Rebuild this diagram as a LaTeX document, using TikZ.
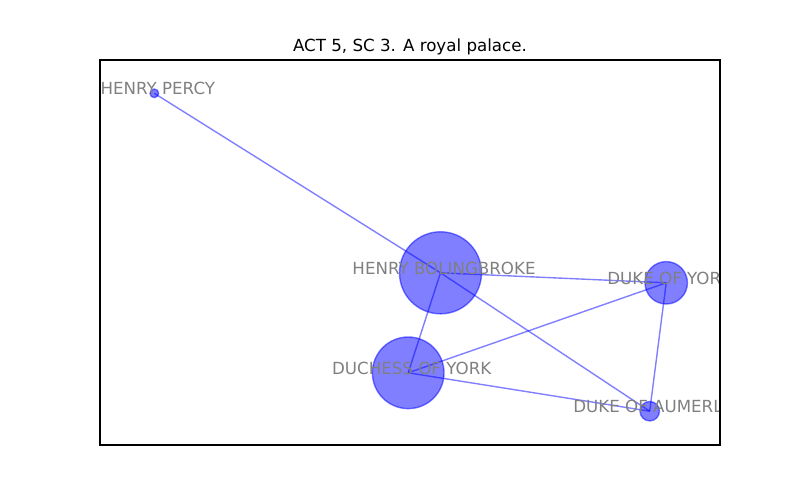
\documentclass[tikz,border=0pt]{standalone}
\usepackage{fontspec}
\setmainfont{DejaVu Sans}
\definecolor{nodeBlue}{HTML}{0000FF}
\definecolor{tagGray}{HTML}{808080}

\begin{document}
\begin{tikzpicture}[x=0.01in, y=-0.01in,
    person/.style={shape=circle, fill=nodeBlue, fill opacity=0.5, draw=nodeBlue, draw opacity=0.5, line width=1bp, inner sep=0pt, outer sep=0pt},
    link/.style={draw=nodeBlue, draw opacity=0.5, line width=1bp},
    nametag/.style={text=tagGray, font=\fontsize{12bp}{14bp}\selectfont, inner sep=0pt, xshift=0.035in, yshift=0.045in}]
  \useasboundingbox (0,0) rectangle (800,500);

  \node[anchor=base, inner sep=0pt, font=\fontsize{12bp}{14bp}\selectfont] (TITLE) at (410,51.7) {ACT 5, SC 3. A royal palace.};

  \begin{scope}
    \clip (100,60) rectangle (720,445);

    \node[person, minimum size=0.086in] (HP) at (154.3,93.3) {};
    \node[person, minimum size=0.82in] (HB) at (440.5,272.8) {};
    \node[person, minimum size=0.424in] (DY) at (666.2,282.8) {};
    \node[person, minimum size=0.716in] (DoY) at (408.2,372.8) {};
    \node[person, minimum size=0.194in] (DA) at (649.7,411.2) {};

    \draw[link] (HP.center) -- (HB.center);
    \draw[link] (HB.center) -- (DY.center);
    \draw[link] (HB.center) -- (DoY.center);
    \draw[link] (HB.center) -- (DA.center);
    \draw[link] (DoY.center) -- (DY.center);
    \draw[link] (DoY.center) -- (DA.center);
    \draw[link] (DY.center) -- (DA.center);

    \node[nametag] (HPt) at (HP) {HENRY PERCY};
    \node[nametag] (HBt) at (HB) {HENRY BOLINGBROKE};
    \node[nametag] (DYt) at (DY) {DUKE OF YORK};
    \node[nametag] (DoYt) at (DoY) {DUCHESS OF YORK};
    \node[nametag] (DAt) at (DA) {DUKE OF AUMERLE};
  \end{scope}

  \draw[line width=0.8bp] (100,60) rectangle (720,445);
\end{tikzpicture}
\end{document}
